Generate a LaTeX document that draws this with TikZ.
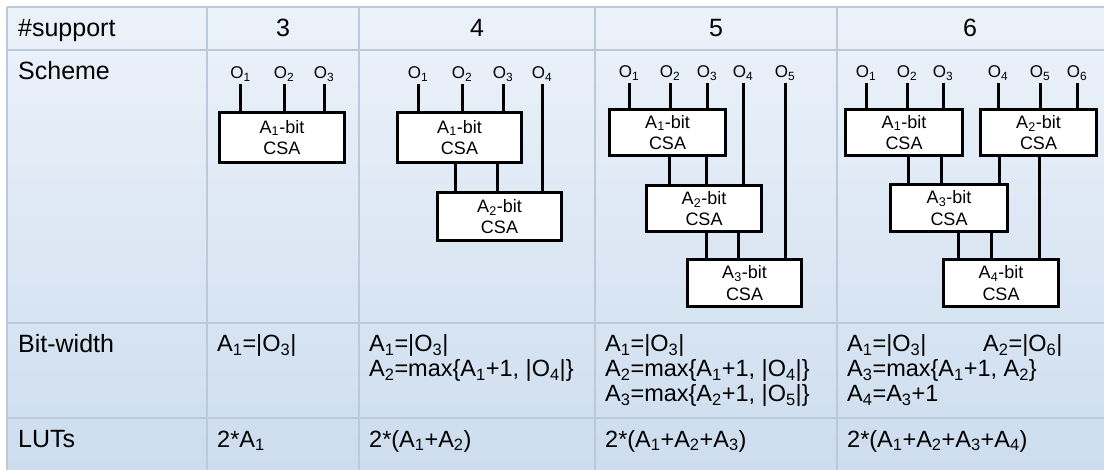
\documentclass[tikz,border=0pt]{standalone}
\usepackage{fontspec}
\setmainfont{Liberation Sans}
\usetikzlibrary{calc}

\definecolor{gridline}{RGB}{188,201,217}
\definecolor{celltop}{RGB}{236,242,250}
\definecolor{cellbot}{RGB}{205,221,238}

\begin{document}
\begin{tikzpicture}[x=1pt,y=-1pt,
  grid/.style={draw=gridline, line width=2pt},
  csa/.style={draw=black, line width=3pt, fill=white, align=center, inner sep=0pt,
              font=\fontsize{18}{21.5}\selectfont},
  olab/.style={anchor=base, inner xsep=0pt, inner ysep=2.5pt, font=\fontsize{17}{20}\selectfont},
  wire/.style={draw=black, line width=3pt},
  head/.style={anchor=base west, inner sep=0pt, font=\fontsize{25}{30}\selectfont},
  num/.style={anchor=base, inner sep=0pt, font=\fontsize{25}{30}\selectfont},
  cell/.style={anchor=base west, inner sep=0pt, font=\fontsize{23.5}{25}\selectfont}]

\useasboundingbox (0,0) rectangle (1104,470);
\fill[white] (0,0) rectangle (1104,470);

% table background
\shade[top color=celltop, bottom color=cellbot] (7,7) rectangle (1104,470);

% grid
\foreach \yy in {7,50,323,418} \draw[grid] (7,\yy) -- (1104,\yy);
\foreach \xx in {7,207,359,595,837} \draw[grid] (\xx,7) -- (\xx,470);

% row and column headers
\node[head] (hsup) at (18,37) {\#support};
\node[num] (h3) at (283,37) {3};
\node[num] (h4) at (477,37) {4};
\node[num] (h5) at (716,37) {5};
\node[num] (h6) at (970,37) {6};
\node[head] (hsch) at (18,80) {Scheme};
\node[head] (hbit) at (18,353) {Bit-width};
\node[head] (hlut) at (18,448) {LUTs};

% ---------- 3 operands ----------
\node[csa, minimum width=125pt, minimum height=50pt] (p3b1) at (282,137.5) {A\textsubscript{1}-bit\\CSA};
\node[olab] (p3o1) at (240.5,78.5) {O\textsubscript{1}};
\node[olab] (p3o2) at (284,78.5) {O\textsubscript{2}};
\node[olab] (p3o3) at (324,78.5) {O\textsubscript{3}};
\foreach \o in {1,2,3} \draw[wire] (p3o\o.south) -- (p3o\o.south |- p3b1.north);

% ---------- 4 operands ----------
\node[csa, minimum width=124pt, minimum height=50pt] (p4b1) at (459.5,137.5) {A\textsubscript{1}-bit\\CSA};
\node[csa, minimum width=124pt, minimum height=48pt] (p4b2) at (499.5,216.5) {A\textsubscript{2}-bit\\CSA};
\node[olab] (p4o1) at (418,78.5) {O\textsubscript{1}};
\node[olab] (p4o2) at (462,78.5) {O\textsubscript{2}};
\node[olab] (p4o3) at (503,78.5) {O\textsubscript{3}};
\node[olab] (p4o4) at (542,78.5) {O\textsubscript{4}};
\foreach \o in {1,2,3} \draw[wire] (p4o\o.south) -- (p4o\o.south |- p4b1.north);
\draw[wire] (p4o4.south) -- (p4o4.south |- p4b2.north);
\coordinate (p4c1) at (455,0);
\coordinate (p4c2) at (497,0);
\foreach \c in {p4c1,p4c2} \draw[wire] (p4b1.south -| \c) -- (p4b2.north -| \c);

% ---------- 5 operands ----------
\node[csa, minimum width=116pt, minimum height=46pt] (p5b1) at (667.5,132.5) {A\textsubscript{1}-bit\\CSA};
\node[csa, minimum width=115pt, minimum height=46pt] (p5b2) at (704,208.5) {A\textsubscript{2}-bit\\CSA};
\node[csa, minimum width=114pt, minimum height=47pt] (p5b3) at (744.5,283) {A\textsubscript{3}-bit\\CSA};
\node[olab] (p5o1) at (629,77.5) {O\textsubscript{1}};
\node[olab] (p5o2) at (670,77.5) {O\textsubscript{2}};
\node[olab] (p5o3) at (707,77.5) {O\textsubscript{3}};
\node[olab] (p5o4) at (743,77.5) {O\textsubscript{4}};
\node[olab] (p5o5) at (785,77.5) {O\textsubscript{5}};
\foreach \o in {1,2,3} \draw[wire] (p5o\o.south) -- (p5o\o.south |- p5b1.north);
\draw[wire] (p5o4.south) -- (p5o4.south |- p5b2.north);
\draw[wire] (p5o5.south) -- (p5o5.south |- p5b3.north);
\coordinate (p5c1) at (669,0);
\coordinate (p5c2) at (706,0);
\coordinate (p5c3) at (738,0);
\foreach \c in {p5c1,p5c2} \draw[wire] (p5b1.south -| \c) -- (p5b2.north -| \c);
\foreach \c in {p5c2,p5c3} \draw[wire] (p5b2.south -| \c) -- (p5b3.north -| \c);

% ---------- 6 operands ----------
\node[csa, minimum width=117pt, minimum height=46pt] (p6b1) at (904,132.5) {A\textsubscript{1}-bit\\CSA};
\node[csa, minimum width=116pt, minimum height=46pt] (p6b2) at (1038.5,132.5) {A\textsubscript{2}-bit\\CSA};
\node[csa, minimum width=117pt, minimum height=47pt] (p6b3) at (949,208) {A\textsubscript{3}-bit\\CSA};
\node[csa, minimum width=115pt, minimum height=47pt] (p6b4) at (1001,283) {A\textsubscript{4}-bit\\CSA};
\node[olab] (p6o1) at (866,77.5) {O\textsubscript{1}};
\node[olab] (p6o2) at (907,77.5) {O\textsubscript{2}};
\node[olab] (p6o3) at (943,77.5) {O\textsubscript{3}};
\node[olab] (p6o4) at (998,77.5) {O\textsubscript{4}};
\node[olab] (p6o5) at (1040,77.5) {O\textsubscript{5}};
\node[olab] (p6o6) at (1077,77.5) {O\textsubscript{6}};
\foreach \o in {1,2,3} \draw[wire] (p6o\o.south) -- (p6o\o.south |- p6b1.north);
\foreach \o in {4,5,6} \draw[wire] (p6o\o.south) -- (p6o\o.south |- p6b2.north);
\coordinate (p6c1) at (908,0);
\coordinate (p6c2) at (941,0);
\coordinate (p6c3) at (999,0);
\coordinate (p6c4) at (958,0);
\coordinate (p6c5) at (991,0);
\coordinate (p6c6) at (1039,0);
\foreach \c in {p6c1,p6c2} \draw[wire] (p6b1.south -| \c) -- (p6b3.north -| \c);
\draw[wire] (p6b2.south -| p6c3) -- (p6b3.north -| p6c3);
\foreach \c in {p6c4,p6c5} \draw[wire] (p6b3.south -| \c) -- (p6b4.north -| \c);
\draw[wire] (p6b2.south -| p6c6) -- (p6b4.north -| p6c6);

% ---------- bit-width row ----------
\node[cell] (w3a) at (217,352) {A\textsubscript{1}=|O\textsubscript{3}|};
\node[cell] (w4a) at (369,352) {A\textsubscript{1}=|O\textsubscript{3}|};
\node[cell] (w4b) at (369,377) {A\textsubscript{2}=max\{A\textsubscript{1}+1, |O\textsubscript{4}|\}};
\node[cell] (w5a) at (605,352) {A\textsubscript{1}=|O\textsubscript{3}|};
\node[cell] (w5b) at (605,377) {A\textsubscript{2}=max\{A\textsubscript{1}+1, |O\textsubscript{4}|\}};
\node[cell] (w5c) at (605,402) {A\textsubscript{3}=max\{A\textsubscript{2}+1, |O\textsubscript{5}|\}};
\node[cell] (w6a) at (847,352) {A\textsubscript{1}=|O\textsubscript{3}|};
\node[cell] (w6b) at (983,352) {A\textsubscript{2}=|O\textsubscript{6}|};
\node[cell] (w6c) at (847,377) {A\textsubscript{3}=max\{A\textsubscript{1}+1, A\textsubscript{2}\}};
\node[cell] (w6d) at (847,402) {A\textsubscript{4}=A\textsubscript{3}+1};

% ---------- LUT row ----------
\node[cell] (l3) at (217,447) {2*A\textsubscript{1}};
\node[cell] (l4) at (369,447) {2*(A\textsubscript{1}+A\textsubscript{2})};
\node[cell] (l5) at (605,447) {2*(A\textsubscript{1}+A\textsubscript{2}+A\textsubscript{3})};
\node[cell] (l6) at (847,447) {2*(A\textsubscript{1}+A\textsubscript{2}+A\textsubscript{3}+A\textsubscript{4})};
\end{tikzpicture}
\end{document}
